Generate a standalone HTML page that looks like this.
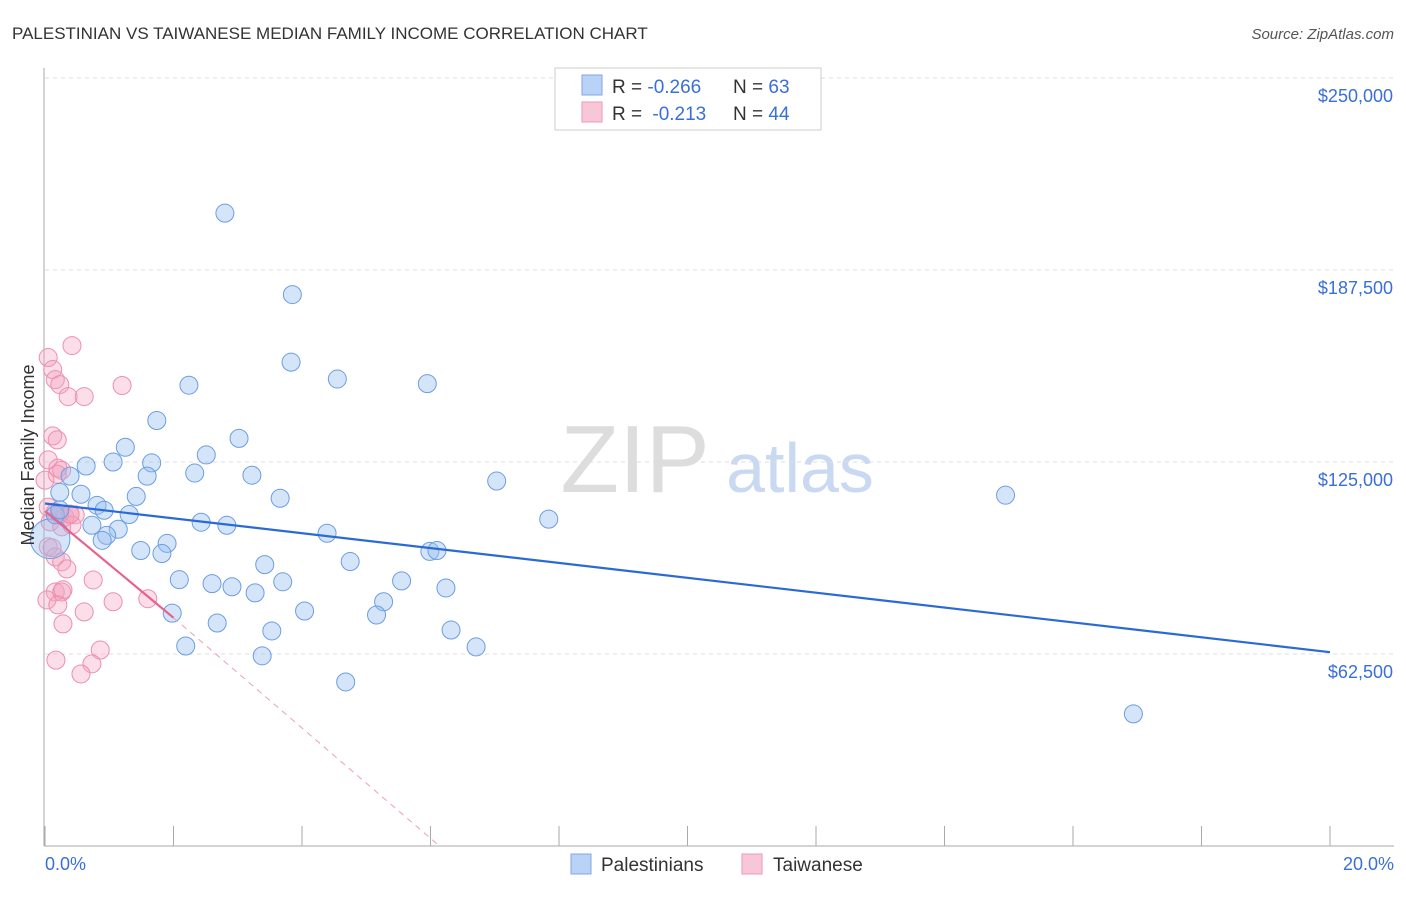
<!DOCTYPE html>
<html><head><meta charset="utf-8"><style>
body{margin:0;background:#fff;font-family:"Liberation Sans",sans-serif}
svg text{font-family:"Liberation Sans",sans-serif}
</style></head><body>
<svg id="c" width="1406" height="892" xmlns="http://www.w3.org/2000/svg">
<text x="12" y="39" font-size="17" fill="#333">PALESTINIAN VS TAIWANESE MEDIAN FAMILY INCOME CORRELATION CHART</text>
<text x="1394" y="39" font-size="15" fill="#555" font-style="italic" text-anchor="end">Source: ZipAtlas.com</text>
<text x="635" y="492" font-size="96" fill="#ddd" font-family="Liberation Serif" text-anchor="middle">ZIP</text>
<text x="800" y="492" font-size="70" fill="#c9d9f2" text-anchor="middle">atlas</text>
<g id="grid"></g><g id="marks"></g>
<text transform="translate(34,455) rotate(-90)" font-size="18" fill="#333" text-anchor="middle">Median Family Income</text>
<text x="45" y="870" font-size="18" fill="#3a6fd8">0.0%</text>
<text x="1394" y="870" font-size="18" fill="#3a6fd8" text-anchor="end">20.0%</text>
<g>
<rect x="555" y="68" width="266" height="62" fill="#fff" stroke="#ccc"/>
<rect x="582" y="75" width="20" height="20" fill="#b9d2f5" stroke="#7fa7e6"/>
<rect x="582" y="102" width="20" height="20" fill="#f9c6d6" stroke="#ee9ab5"/>
<text x="612" y="93" font-size="19" fill="#333">R = <tspan fill="#3a6fd8">-0.266</tspan><tspan x="733">N = </tspan><tspan fill="#3a6fd8">63</tspan></text>
<text x="612" y="120" font-size="19" fill="#333">R = <tspan fill="#3a6fd8" dx="5">-0.213</tspan><tspan x="733">N = </tspan><tspan fill="#3a6fd8">44</tspan></text>
</g>
<g>
<rect x="571" y="854" width="20" height="20" fill="#b9d2f5" stroke="#7fa7e6"/>
<text x="601" y="871" font-size="19" fill="#333">Palestinians</text>
<rect x="742" y="854" width="20" height="20" fill="#f9c6d6" stroke="#ee9ab5"/>
<text x="773" y="871" font-size="19" fill="#333">Taiwanese</text>
</g>
</svg>
<script>
const yTicks=[62500,125000,187500,250000];
const yTickLabels=["$62,500","$125,000","$187,500","$250,000"];
const xTicks=[0,2,4,6,8,10,12,14,16,18,20];
const bluePts=[[2.8,206000],[3.85,179500],[3.83,157500],[4.55,152000],[5.95,150500],[2.24,150000],[1.74,138500],[3.02,132700],[1.25,129800],[2.51,127300],[0.64,123700],[1.06,125000],[1.66,124700],[2.33,121400],[3.22,120700],[1.59,120400],[0.39,120400],[0.23,115100],[0.56,114500],[1.42,113800],[3.66,113200],[0.81,110900],[1.31,107900],[0.92,109300],[2.43,105400],[2.83,104400],[0.73,104400],[4.39,101800],[1.14,103100],[7.84,106400],[7.03,118800],[14.95,114200],[0.96,101100],[0.89,99500],[1.49,96200],[1.9,98500],[1.82,95200],[5.99,95900],[6.1,96200],[4.75,92600],[3.42,91600],[2.09,86700],[2.6,85400],[2.91,84400],[3.7,86000],[5.55,86300],[3.27,82400],[6.24,84000],[5.27,79500],[4.04,76500],[1.98,75800],[5.16,75200],[2.68,72600],[3.53,70000],[6.32,70300],[2.19,65100],[6.71,64800],[3.38,61900],[4.68,53400],[16.94,43000],[0.08,100000],[0.16,107800],[0.23,109400]];
const bluePtSizes=[10,10,10,10,10,10,10,10,10,10,10,10,10,10,10,10,10,10,10,10,10,10,10,10,10,10,10,10,10,10,10,10,10,10,10,10,10,10,10,10,10,10,10,10,10,10,10,10,10,10,10,10,10,10,10,10,10,10,10,10,22,10,10];
const pinkPts=[[0.42,162900],[0.05,159000],[0.12,155100],[0.16,151800],[0.23,150200],[1.2,149900],[0.36,146300],[0.61,146300],[0.12,133500],[0.19,132200],[0.05,125700],[0.2,123000],[0.26,122300],[0.19,121000],[0.0,119100],[0.05,110300],[0.16,108700],[0.23,108000],[0.31,107100],[0.39,108000],[0.47,107800],[0.08,105500],[0.26,103900],[0.42,104500],[0.05,97400],[0.16,94100],[0.26,92500],[0.34,90200],[0.75,86600],[0.16,82700],[0.26,82700],[0.28,83400],[0.03,80100],[0.2,78500],[1.6,80500],[1.06,79500],[0.61,76200],[0.28,72300],[0.86,63800],[0.17,60500],[0.73,59300],[0.56,56000],[0.39,108000],[0.11,97100]];
const blueTrend=[[0,111500],[20,63100]];
const pinkTrend=[[0,109000],[2,74300]];
const pinkDash=[[2,74300],[6.14,0]];
const X=v=>45+v/20*1285, Y=v=>846-v/62500*192;
const NS="http://www.w3.org/2000/svg";
function mk(t,a,p){const e=document.createElementNS(NS,t);for(const k in a)e.setAttribute(k,a[k]);p.appendChild(e);return e;}
const g=document.getElementById('grid'),m=document.getElementById('marks');
let l=mk('line',{x1:45,y1:Y(250000),x2:1394,y2:Y(250000),stroke:'#ddd','stroke-dasharray':'4,4'},g);
yTicks.forEach((t,i)=>{
 const ln=mk('line',{x1:45,y1:Y(t),x2:1394,y2:Y(t),stroke:'#ddd','stroke-dasharray':'4,4'},g);
 
 
 const tx=mk('text',{x:1393,y:Y(t)+24,'font-size':18,fill:'#3a6fd8','text-anchor':'end'},g);
 tx.textContent=yTickLabels[i];
 
 
});
const ax=mk('line',{x1:44,y1:68,x2:44,y2:846,stroke:'#aaa'},g);


const bx=mk('line',{x1:44,y1:846,x2:1394,y2:846,stroke:'#aaa'},g);


xTicks.forEach(t=>{
 const k=mk('line',{x1:X(t),y1:826,x2:X(t),y2:846,stroke:'#aaa'},g);
 
 
});
pinkPts.forEach(p=>{
 const c=mk('circle',{cx:X(p[0]),cy:Y(p[1]),r:9,fill:'rgba(244,160,188,0.35)',stroke:'#ec8fae','stroke-width':1},m);
 
 
});
bluePts.forEach((p,i)=>{
 const c=mk('circle',{cx:X(p[0]),cy:Y(p[1]),r:bluePtSizes[i]*0.9,fill:'rgba(150,190,240,0.4)',stroke:'#6b9de3','stroke-width':1},m);
 
 
});
const bt=mk('line',{x1:X(blueTrend[0][0]),y1:Y(blueTrend[0][1]),x2:X(blueTrend[1][0]),y2:Y(blueTrend[1][1]),stroke:'#2a6ad6','stroke-width':2.2},m);


const pt=mk('line',{x1:X(pinkTrend[0][0]),y1:Y(pinkTrend[0][1]),x2:X(pinkTrend[1][0]),y2:Y(pinkTrend[1][1]),stroke:'#e8628f','stroke-width':2.2},m);


const pd=mk('line',{x1:X(pinkDash[0][0]),y1:Y(pinkDash[0][1]),x2:X(pinkDash[1][0]),y2:Y(pinkDash[1][1]),stroke:'#eaa0b8','stroke-width':1,'stroke-dasharray':'6,5'},m);


</script>
</body></html>
